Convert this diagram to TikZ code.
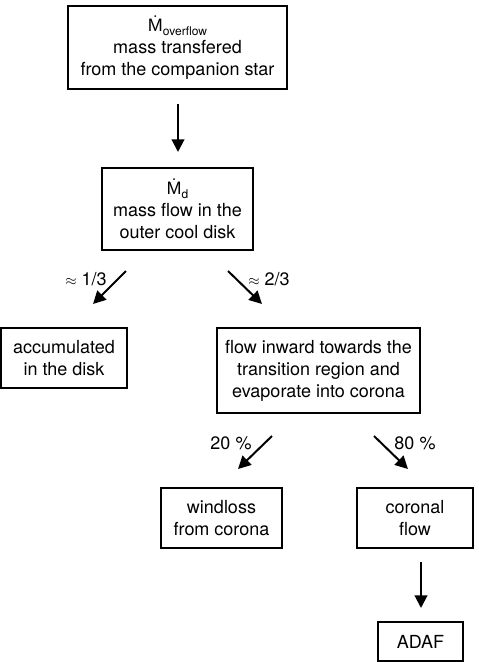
\documentclass[tikz,border=0pt]{standalone}
\usepackage{fontspec}
\setmainfont{TeX Gyre Heros}
\newfontfamily\libsans{Liberation Sans}
\usetikzlibrary{arrows.meta}
\begin{document}
\begin{tikzpicture}[x=0.75pt,y=-0.75pt,
 box/.style={draw,line width=1.1pt,inner sep=0pt,align=center,font=\fontsize{13.5}{16.5}\selectfont},
 arr/.style={line width=1.5pt,-{Triangle[length=9.5pt,width=9.5pt]}},
 lab/.style={font=\fontsize{13.5}{16}\selectfont,inner sep=0pt}]
\newcommand{\subsc}[1]{\raisebox{-3pt}{\fontsize{9}{9}\selectfont #1}}
\newcommand{\Mdot}{{\libsans Ṁ}}
\useasboundingbox (0,0) rectangle (479,662);
\node[box,minimum width=219*0.75pt,minimum height=83*0.75pt] (b1) at (177.5,47.5)
  {\Mdot\subsc{overflow}\\mass transfered\\from the companion star};
\node[box,minimum width=151*0.75pt,minimum height=82*0.75pt] (b2) at (177.5,209)
  {\Mdot\subsc{d}\\mass flow in the\\outer cool disk};
\node[box,minimum width=126*0.75pt,minimum height=60*0.75pt] (b3) at (64,358)
  {accumulated\\in the disk};
\node[box,minimum width=203*0.75pt,minimum height=85*0.75pt] (b4) at (318.5,370.5)
  {flow inward towards the\\transition region and\\evaporate into corona};
\node[box,minimum width=121*0.75pt,minimum height=60*0.75pt] (b5) at (221.5,518)
  {windloss\\from corona};
\node[box,minimum width=116*0.75pt,minimum height=60*0.75pt] (b6) at (415,518)
  {coronal\\flow};
\node[box,minimum width=85*0.75pt,minimum height=39*0.75pt] (b7) at (420.5,641.5)
  {ADAF};
\coordinate (a1s) at (178,104); \coordinate (a1e) at (178,152);
\coordinate (a2s) at (126,271); \coordinate (a2e) at (93,304);
\coordinate (a3s) at (228,271); \coordinate (a3e) at (262,304);
\coordinate (a4s) at (272,436); \coordinate (a4e) at (238,469);
\coordinate (a5s) at (374,436); \coordinate (a5e) at (408,469);
\coordinate (a6s) at (421,562); \coordinate (a6e) at (421,608);
\draw[arr] (a1s) -- (a1e);
\draw[arr] (a2s) -- (a2e);
\draw[arr] (a3s) -- (a3e);
\draw[arr] (a4s) -- (a4e);
\draw[arr] (a5s) -- (a5e);
\draw[arr] (a6s) -- (a6e);
\node[lab] (l1) at (86,279) {{\fontsize{11}{11}\selectfont$\approx$} 1/3};
\node[lab] (l2) at (269,279) {{\fontsize{11}{11}\selectfont$\approx$} 2/3};
\node[lab] (l3) at (231,443) {20 \%};
\node[lab] (l4) at (415,443) {80 \%};
\end{tikzpicture}
\end{document}
